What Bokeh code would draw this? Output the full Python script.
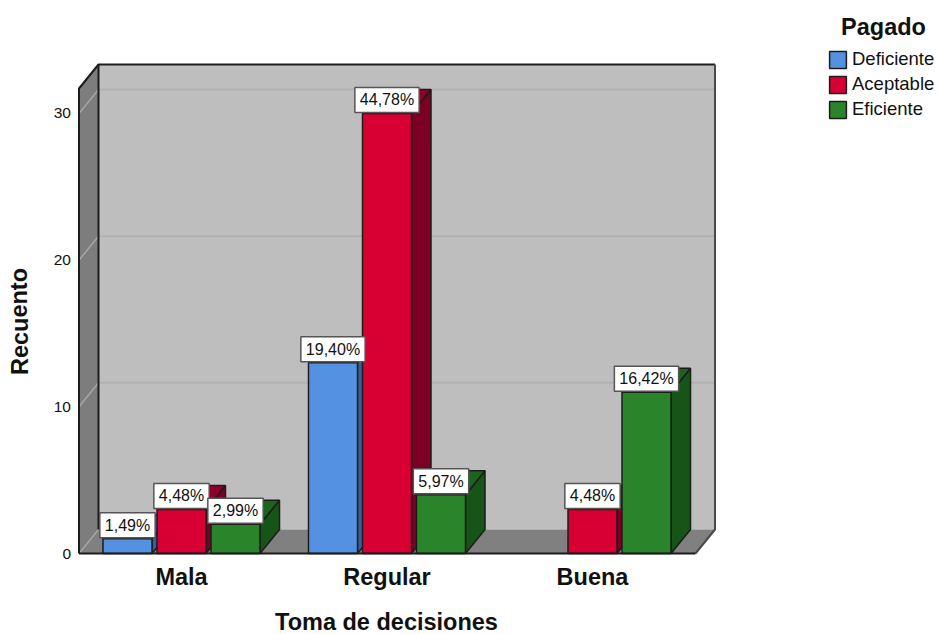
from bokeh.embed import file_html
from bokeh.resources import INLINE
from bokeh.plotting import figure
from bokeh.models import ColumnDataSource, FixedTicker, Legend, LegendItem
from bokeh.core.properties import value

# Counts per decision-making category and payment level
categories = ["Mala", "Regular", "Buena"]
series_names = ["Deficiente", "Aceptable", "Eficiente"]
deficiente = [1, 13, 0]
aceptable = [3, 30, 3]
eficiente = [2, 4, 11]
deficiente_pct = ["1,49%", "19,40%", ""]
aceptable_pct = ["4,48%", "44,78%", "4,48%"]
eficiente_pct = ["2,99%", "5,97%", "16,42%"]
y_ticks = [0, 10, 20, 30]
legend_title = "Pagado"
x_title = "Toma de decisiones"
y_title = "Recuento"

front_colors = ["#5591E3", "#D80032", "#2A842A"]
side_colors = ["#32619E", "#7C0024", "#175417"]
top_colors = ["#3F74BC", "#8E0029", "#1C641C"]
OUTLINE = "#1C1C1C"
FONT = "Liberation Sans"
TEXT = "#111111"

# The frame fills the page; both scales are anchored to pixel positions
WIDTH, HEIGHT = 939, 634
Y0_PX, PX_PER_COUNT = 553, 14.667
X0_PX, PX_PER_GROUP = 181, 205.5


def data_x(px):
    return (px - X0_PX) / PX_PER_GROUP


def data_y(px):
    return (Y0_PX - px) / PX_PER_COUNT


# 3-D depth and chamber extents in data units
DX = 19.5 / PX_PER_GROUP
DY = 24 / PX_PER_COUNT
BAR_W = 49 / PX_PER_GROUP
BAR_STEP = 54 / PX_PER_GROUP
WALL_L = data_x(78.5)
WALL_R = data_x(695)
WALL_TOP = data_y(88)

p = figure(
    width=WIDTH, height=HEIGHT, output_backend="svg", toolbar_location=None,
    x_range=(data_x(0), data_x(WIDTH)), y_range=(data_y(HEIGHT), data_y(0)),
    min_border=0, min_border_left=0, min_border_right=0, min_border_top=0, min_border_bottom=0,
    outline_line_color=None, background_fill_color="white",
)
p.grid.visible = False

# Chamber fills: back wall, side wall and floor
p.patch([WALL_L + DX, WALL_R + DX, WALL_R + DX, WALL_L + DX],
        [DY, DY, WALL_TOP + DY, WALL_TOP + DY], fill_color="#BEBEBE", line_color=None)
p.patch([WALL_L, WALL_L + DX, WALL_L + DX, WALL_L],
        [0, DY, WALL_TOP + DY, WALL_TOP], fill_color="#7D7D7D", line_color=None)
p.patch([WALL_L, WALL_R, WALL_R + DX, WALL_L + DX],
        [0, 0, DY, DY], fill_color="#808080", line_color=None)

# Gridlines run along the back wall and fold down the side wall
for t in y_ticks[1:]:
    p.line([WALL_L + DX, WALL_R + DX], [t + DY, t + DY], line_color="#B0B0B0", line_width=2)
for t in y_ticks:
    p.line([WALL_L, WALL_L + DX], [t, t + DY], line_color="#A6A6A6", line_width=1.5)

# Chamber edges; the floor meets the back wall without a dark seam
p.line([WALL_L, WALL_L, WALL_L + DX, WALL_R + DX],
       [0, WALL_TOP, WALL_TOP + DY, WALL_TOP + DY], line_color=OUTLINE, line_width=2)
p.line([WALL_L + DX, WALL_L + DX], [DY, WALL_TOP + DY], line_color=OUTLINE, line_width=2)
p.line([WALL_R + DX, WALL_R + DX, WALL_R], [WALL_TOP + DY, DY, 0], line_color="#4A4A4A", line_width=2)

# Bars, each with a front, a side and a top face
series = [deficiente, aceptable, eficiente]
pcts = [deficiente_pct, aceptable_pct, eficiente_pct]
legend_items = []
labels_x, labels_y, labels_t = [], [], []
for j, vals in enumerate(series):
    cx = [i + (j - 1) * BAR_STEP for i in range(len(categories))]
    shown = [k for k, v in enumerate(vals) if v > 0]
    x0 = [cx[k] - BAR_W / 2 for k in shown]
    x1 = [cx[k] + BAR_W / 2 for k in shown]
    tops = [vals[k] for k in shown]
    p.patches([[r, r + DX, r + DX, r] for r in x1],
              [[0, DY, t + DY, t] for t in tops],
              fill_color=side_colors[j], line_color=OUTLINE, line_width=1.5)
    p.patches([[l, r, r + DX, l + DX] for l, r in zip(x0, x1)],
              [[t, t, t + DY, t + DY] for t in tops],
              fill_color=top_colors[j], line_color=OUTLINE, line_width=1.5)
    front = p.quad(left=x0, right=x1, bottom=[0] * len(tops), top=tops,
                   fill_color=front_colors[j], line_color=OUTLINE, line_width=1.5)
    legend_items.append(LegendItem(label=series_names[j], renderers=[front]))
    for k in shown:
        labels_x.append(cx[k])
        labels_y.append(vals[k])
        labels_t.append(pcts[j][k])

# Floor edge drawn over the bar bases
p.line([WALL_L, WALL_R], [0, 0], line_color=OUTLINE, line_width=2)

# Percentage tags sit on top of their bars
p.text(x="x", y="y", text="t", source=ColumnDataSource(dict(x=labels_x, y=labels_y, t=labels_t)),
       text_font=value(FONT), text_font_size="16px", text_color=TEXT,
       text_align="center", text_baseline="bottom", y_offset=-1,
       background_fill_color="white", border_line_color="#555555", border_line_width=1.5,
       padding=(5, 4))

# Axes are pinned to the chamber so that their labels need no extra margin
p.xaxis.fixed_location = 0
p.xaxis.ticker = FixedTicker(ticks=list(range(len(categories))))
p.xaxis.major_label_overrides = {i: c for i, c in enumerate(categories)}
p.xaxis.major_label_text_font = FONT
p.xaxis.major_label_text_font_size = "23.5px"
p.xaxis.major_label_text_font_style = "bold"
p.xaxis.major_label_text_color = TEXT
p.xaxis.major_label_standoff = 10
p.xaxis.major_tick_in = 0
p.xaxis.major_tick_out = 0
p.xaxis.major_tick_line_color = None
p.xaxis.minor_tick_line_color = None
p.xaxis.axis_line_color = None

p.yaxis.fixed_location = WALL_L
p.yaxis.ticker = FixedTicker(ticks=y_ticks)
p.yaxis.major_label_text_font = FONT
p.yaxis.major_label_text_font_size = "15.5px"
p.yaxis.major_label_text_color = TEXT
p.yaxis.major_label_standoff = 8
p.yaxis.major_tick_in = 0
p.yaxis.major_tick_out = 0
p.yaxis.major_tick_line_color = None
p.yaxis.minor_tick_line_color = None
p.yaxis.axis_line_color = None

# Axis titles
p.text(x=[data_x(386)], y=[data_y(621)], text=[x_title],
       text_font=value(FONT), text_font_size="23.5px", text_font_style="bold",
       text_color=TEXT, text_align="center", text_baseline="middle")
p.text(x=[data_x(19)], y=[data_y(321)], text=[y_title], angle=1.5708,
       text_font=value(FONT), text_font_size="23.5px", text_font_style="bold",
       text_color=TEXT, text_align="center", text_baseline="middle")

# Legend block to the right of the chamber
p.text(x=[data_x(883)], y=[data_y(26)], text=[legend_title],
       text_font=value(FONT), text_font_size="23.5px", text_font_style="bold",
       text_color=TEXT, text_align="center", text_baseline="middle")
legend = Legend(items=legend_items, location=(827, HEIGHT - 120),
                background_fill_alpha=0, border_line_color=None, margin=0, padding=0,
                glyph_width=21, glyph_height=21, spacing=3, label_standoff=4,
                label_text_font=FONT, label_text_font_size="18.5px", label_text_color=TEXT,
                label_height=18)
p.add_layout(legend, "center")

open("out.html", "w").write(file_html(p, INLINE))
